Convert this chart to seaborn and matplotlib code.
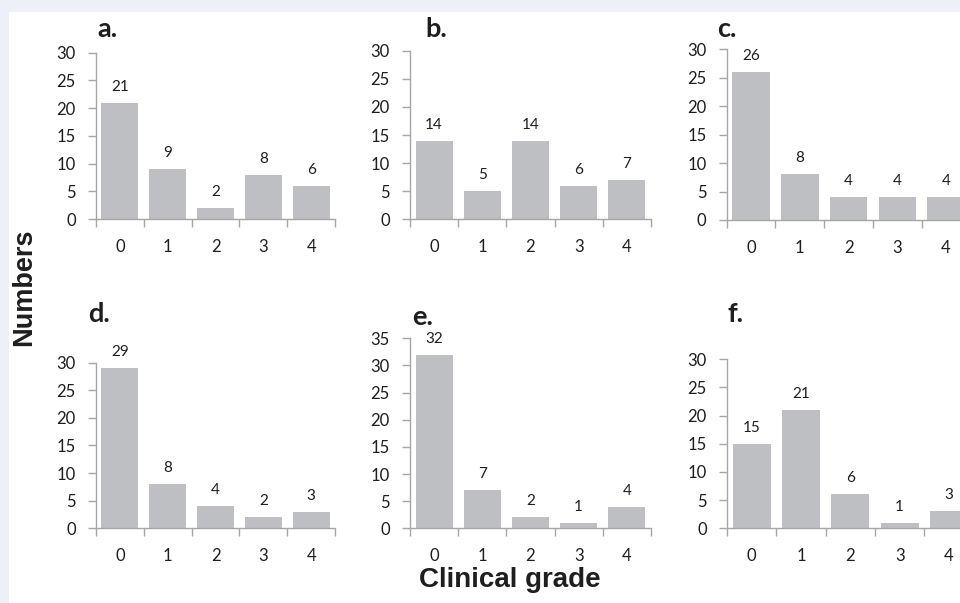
import numpy as np
import pandas as pd
import matplotlib
matplotlib.use('Agg')
import matplotlib.pyplot as plt
from matplotlib.patches import Rectangle
import seaborn as sns

# Dados: número de casos por grau clínico (painéis a-f)
grades = ['0', '1', '2', '3', '4']
counts_a = [21, 9, 2, 8, 6]
counts_b = [14, 5, 14, 6, 7]
counts_c = [26, 8, 4, 4, 4]
counts_d = [29, 8, 4, 2, 3]
counts_e = [32, 7, 2, 1, 4]
counts_f = [15, 21, 6, 1, 3]
panel_names = ['a.', 'b.', 'c.', 'd.', 'e.', 'f.']
y_max = [30, 30, 30, 30, 35, 30]
y_label = 'Numbers'
x_label = 'Clinical grade'

sns.set_style('white')
plt.rcParams['font.family'] = ['Lato', 'DejaVu Sans']

W, H = 960, 603
BAR_COLOR = '#BEBFC3'
AXIS_COLOR = '#A6A6A6'
TEXT_COLOR = '#1E1E1E'

# caixas dos eixos em pixels: (x0, y_topo, largura, altura)
boxes = [
    (96, 52.7, 239, 166.3),
    (410, 50.7, 241, 168.6),
    (726.7, 49.3, 243.7, 170.7),
    (96, 362.7, 239, 165.6),
    (410, 338.3, 241, 190.0),
    (727, 359.3, 246.7, 169.0),
]
# posição (x, linha de base) das letras dos painéis, em pixels
letter_pos = [(97, 37), (425, 37), (717, 37), (88, 322), (412, 325), (728, 322)]

fig = plt.figure(figsize=(W / 100, H / 100), dpi=100)
fig.patch.set_facecolor('#EEF0F7')
fig.add_artist(Rectangle((9 / W, 0), 1, (H - 12) / H, transform=fig.transFigure,
                         facecolor='white', edgecolor='none', zorder=-10))

all_counts = [counts_a, counts_b, counts_c, counts_d, counts_e, counts_f]

for i, counts in enumerate(all_counts):
    x0, yt, w, h = boxes[i]
    ax = fig.add_axes([x0 / W, (H - yt - h) / H, w / W, h / H])
    ax.set_facecolor('none')
    df = pd.DataFrame({'grade': grades, 'n': counts})
    sns.barplot(data=df, x='grade', y='n', ax=ax, color=BAR_COLOR,
                width=0.77, linewidth=0, saturation=1, errorbar=None)
    ax.bar_label(ax.containers[0], padding=6.5, fontsize=11, color=TEXT_COLOR,
                 clip_on=False)

    ax.set_xlim(-0.5, len(grades) - 0.5)
    ax.set_ylim(0, y_max[i])
    ax.set_yticks(np.arange(0, y_max[i] + 1, 5))
    ax.set_xticks(np.arange(-0.5, len(grades), 1), minor=True)
    ax.set_xlabel('')
    ax.set_ylabel('')

    for s in ['top', 'right']:
        ax.spines[s].set_visible(False)
    for s in ['left', 'bottom']:
        ax.spines[s].set_color(AXIS_COLOR)
        ax.spines[s].set_linewidth(1.0)

    ax.tick_params(axis='y', which='major', direction='out', length=6, width=1,
                   color=AXIS_COLOR, pad=8.5, labelsize=12, labelcolor=TEXT_COLOR, left=True)
    ax.tick_params(axis='x', which='major', length=0, pad=14.5,
                   labelsize=12, labelcolor=TEXT_COLOR, bottom=True)
    ax.tick_params(axis='x', which='minor', direction='out', length=6, width=1,
                   color=AXIS_COLOR, bottom=True)

    lx, ly = letter_pos[i]
    fig.text(lx / W, (H - ly) / H, panel_names[i], fontsize=19.5, fontweight='bold',
             color=TEXT_COLOR, ha='left', va='baseline')

fig.text(24 / W, (H - 287) / H, y_label, rotation=90, ha='center', va='center',
         fontsize=19.5, fontweight='bold', family='Liberation Sans', color=TEXT_COLOR)
fig.text(510 / W, (H - 587) / H, x_label, ha='center', va='baseline',
         fontsize=20, fontweight='bold', family='Liberation Sans', color=TEXT_COLOR)

fig.savefig('out.png', dpi=100, facecolor=fig.get_facecolor())
